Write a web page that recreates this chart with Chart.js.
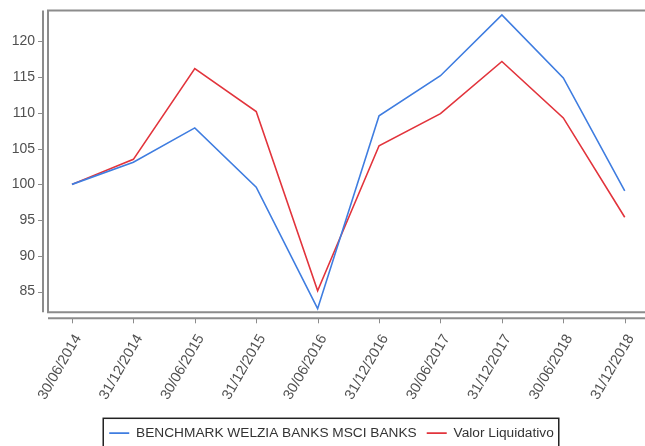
<!DOCTYPE html>
<html>
<head>
<meta charset="utf-8">
<script src="https://cdn.jsdelivr.net/npm/chart.js@4.4.0/dist/chart.umd.min.js"></script>
<style>
    html, body { margin: 0; padding: 0; background: #fff; }
    #wrap { width: 645px; height: 446px; }
</style>
</head>
<body>
<div id="wrap"><canvas id="chart"></canvas></div>
<script>
// data
const dates = ['30/06/2014', '31/12/2014', '30/06/2015', '31/12/2015', '30/06/2016',
               '31/12/2016', '30/06/2017', '31/12/2017', '30/06/2018', '31/12/2018'];
const benchmark = [100, 103.1, 107.9, 99.6, 82.6, 109.6, 115.2, 123.7, 114.9, 99.1];
const valorLiquidativo = [100, 103.5, 116.2, 110.2, 85.1, 105.4, 109.9, 117.2, 109.3, 95.4];
const yTicks = [85, 90, 95, 100, 105, 110, 115, 120];

const axisGray = '#8c8c8c';

// box + offset axes like the original applet
const frameLines = {
    id: 'frameLines',
    afterDraw(chart) {
        const { ctx, chartArea: a, scales } = chart;
        ctx.save();
        ctx.strokeStyle = axisGray;
        ctx.lineWidth = 2;
        // plot box (right side falls off the picture)
        ctx.beginPath();
        ctx.moveTo(chart.width + 5, a.top);
        ctx.lineTo(a.left, a.top);
        ctx.lineTo(a.left, a.bottom);
        ctx.lineTo(chart.width + 5, a.bottom);
        ctx.stroke();
        // y axis
        ctx.beginPath();
        ctx.moveTo(a.left - 5, a.top);
        ctx.lineTo(a.left - 5, a.bottom);
        ctx.stroke();
        // x axis
        ctx.beginPath();
        ctx.moveTo(a.left, a.bottom + 6);
        ctx.lineTo(chart.width, a.bottom + 6);
        ctx.stroke();
        ctx.lineWidth = 1;
        ctx.beginPath();
        scales.y.ticks.forEach(t => {
            const py = Math.round(scales.y.getPixelForValue(t.value)) + 0.5;
            ctx.moveTo(a.left - 10, py);
            ctx.lineTo(a.left - 5, py);
        });
        scales.x.ticks.forEach(t => {
            const px = Math.round(scales.x.getPixelForValue(t.value)) + 0.5;
            ctx.moveTo(px, a.bottom + 6);
            ctx.lineTo(px, a.bottom + 11);
        });
        ctx.stroke();
        // legend frame
        const boxes = chart.legend.legendHitBoxes;
        if (boxes && boxes.length) {
            const first = boxes[0], last = boxes[boxes.length - 1];
            const x0 = first.left - 6;
            const x1 = last.left + last.width + 5;
            const y0 = first.top - 8;
            ctx.strokeStyle = '#222';
            ctx.lineWidth = 1.5;
            ctx.strokeRect(x0, y0, x1 - x0, chart.height - y0 + 4);
        }
        ctx.restore();
    }
};

new Chart(document.getElementById('chart'), {
    type: 'line',
    data: {
        datasets: [{
            label: 'BENCHMARK WELZIA BANKS MSCI BANKS',
            data: benchmark.map((v, i) => ({ x: i, y: v })),
            borderColor: '#3f7de0',
            backgroundColor: '#3f7de0',
            borderWidth: 1.6,
            pointRadius: 0,
            tension: 0
        }, {
            label: 'Valor Liquidativo',
            data: valorLiquidativo.map((v, i) => ({ x: i, y: v })),
            borderColor: '#e2343c',
            backgroundColor: '#e2343c',
            borderWidth: 1.6,
            pointRadius: 0,
            tension: 0
        }]
    },
    options: {
        responsive: true,
        maintainAspectRatio: false,
        animation: false,
        // negative right padding pushes the legend a bit right of centre
        layout: { padding: { top: 10.5, right: -18, left: 0, bottom: -4 } },
        scales: {
            x: {
                type: 'linear',
                min: -0.39,
                max: 9.33,
                afterBuildTicks: scale => { scale.ticks = dates.map((d, i) => ({ value: i })); },
                afterFit: scale => {
                    scale.height = 104;
                    scale.paddingLeft = 0;
                    scale.paddingRight = 0;
                },
                grid: { display: false, drawTicks: false },
                border: { display: false },
                ticks: {
                    autoSkip: false,
                    maxRotation: 60,
                    minRotation: 60,
                    padding: 19,
                    labelOffset: 6,
                    color: '#505050',
                    font: { family: "'Liberation Sans', Arial, sans-serif", size: 14.5 },
                    callback: v => dates[v]
                }
            },
            y: {
                min: 82.1,
                max: 124.33,
                afterBuildTicks: scale => { scale.ticks = yTicks.map(v => ({ value: v })); },
                afterFit: scale => {
                    scale.width = 48;
                    scale.paddingTop = 0;
                    scale.paddingBottom = 0;
                },
                grid: { display: false, drawTicks: false },
                border: { display: false },
                ticks: {
                    padding: 13,
                    color: '#505050',
                    font: { family: "'Liberation Sans', Arial, sans-serif", size: 14 }
                }
            }
        },
        plugins: {
            legend: {
                position: 'bottom',
                labels: {
                    usePointStyle: true,
                    pointStyle: 'line',
                    pointStyleWidth: 20,
                    padding: 10,
                    color: '#333',
                    font: { family: "'Liberation Sans', Arial, sans-serif", size: 13.7 }
                }
            },
            tooltip: { enabled: false }
        }
    },
    plugins: [frameLines]
});
</script>
</body>
</html>
